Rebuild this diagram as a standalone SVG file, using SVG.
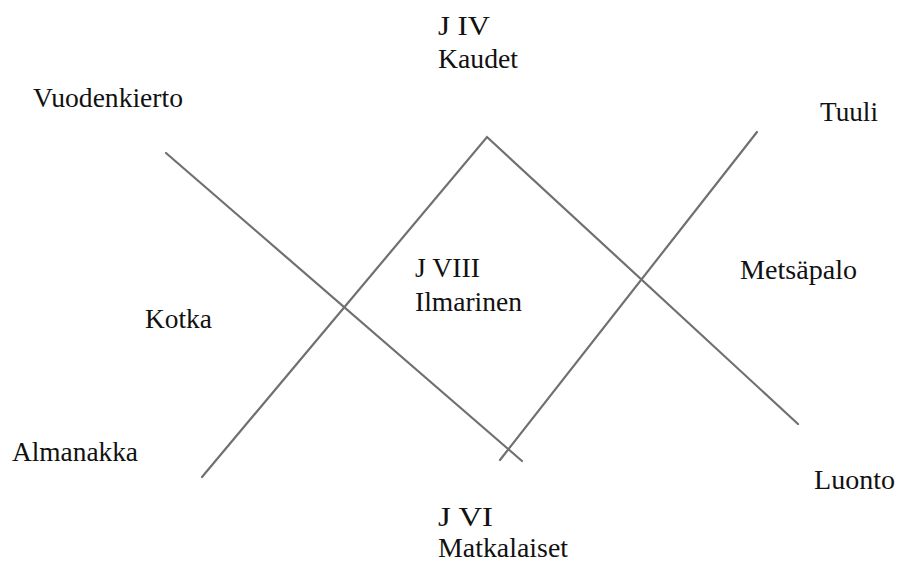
<svg xmlns="http://www.w3.org/2000/svg" width="901" height="565" viewBox="0 0 901 565">
<style>
text{font-family:"Liberation Serif","Times New Roman",serif;font-size:28px;fill:#111111}
.c line,.c polyline{stroke:#707070;stroke-width:2.2;fill:none;stroke-linecap:round}
</style>
<rect width="901" height="565" fill="#ffffff"/>
<g class="c" id="connectors">
<line x1="166" y1="153" x2="522" y2="461"/>
<polyline points="202,477 487,137 798,424"/>
<line x1="500" y1="460" x2="757" y2="132"/>
</g>
<g id="n-jiv"><text x="438" y="35" textLength="52" lengthAdjust="spacingAndGlyphs">J IV</text><text x="438" y="68" textLength="80" lengthAdjust="spacingAndGlyphs">Kaudet</text></g>
<g id="n-vuodenkierto"><text x="33" y="107" textLength="150" lengthAdjust="spacingAndGlyphs">Vuodenkierto</text></g>
<g id="n-tuuli"><text x="820" y="121" textLength="58" lengthAdjust="spacingAndGlyphs">Tuuli</text></g>
<g id="n-jviii"><text x="415" y="277" textLength="65" lengthAdjust="spacingAndGlyphs">J VIII</text><text x="415" y="311" textLength="107" lengthAdjust="spacingAndGlyphs">Ilmarinen</text></g>
<g id="n-kotka"><text x="145" y="328" textLength="67" lengthAdjust="spacingAndGlyphs">Kotka</text></g>
<g id="n-metsapalo"><text x="740" y="279" textLength="117" lengthAdjust="spacingAndGlyphs">Metsäpalo</text></g>
<g id="n-almanakka"><text x="12" y="461" textLength="126" lengthAdjust="spacingAndGlyphs">Almanakka</text></g>
<g id="n-luonto"><text x="814" y="489" textLength="81" lengthAdjust="spacingAndGlyphs">Luonto</text></g>
<g id="n-jvi"><text x="438" y="526" textLength="55" lengthAdjust="spacingAndGlyphs">J VI</text><text x="438" y="557" textLength="130" lengthAdjust="spacingAndGlyphs">Matkalaiset</text></g>
</svg>
